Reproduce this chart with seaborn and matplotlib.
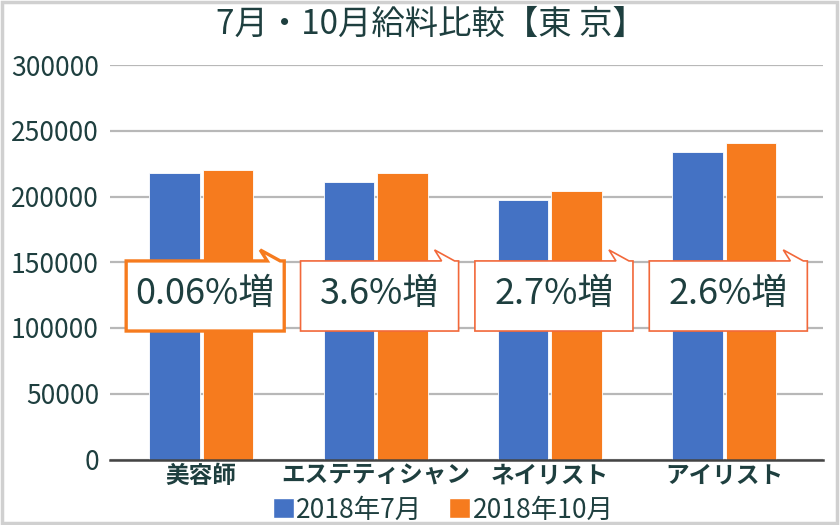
import matplotlib
matplotlib.use("Agg")
import matplotlib.pyplot as plt
from matplotlib.patches import Polygon, Rectangle, Patch
import seaborn as sns
import pandas as pd

# ---- data ----
categories = ["美容師", "エステティシャン", "ネイリスト", "アイリスト"]
series_names = ["2018年7月", "2018年10月"]
july_values = [218100, 211100, 197300, 233700]
october_values = [219800, 218100, 204200, 240800]
increase_labels = ["0.06%増", "3.6%増", "2.7%増", "2.6%増"]
y_ticks = [0, 50000, 100000, 150000, 200000, 250000, 300000]
title = "7月・10月給料比較【東 京】"

# ---- style ----
sns.set_theme(style="white")
plt.rcParams["font.family"] = ["Noto Sans CJK JP", "DejaVu Sans"]
TEXT = "#1e3f3f"
BLUE = "#4472c4"
ORANGE = "#f67b1e"

df = pd.DataFrame({
    "cat": categories * 2,
    "val": july_values + october_values,
    "series": [series_names[0]] * len(categories) + [series_names[1]] * len(categories),
})

fig = plt.figure(figsize=(8.4, 5.25), dpi=100)
ax = fig.add_axes([110 / 840, 1 - 459.5 / 525, 713 / 840, (459.5 - 65) / 525])

sns.barplot(data=df, x="cat", y="val", hue="series", palette=[BLUE, ORANGE],
            saturation=1, width=0.614, gap=0.055, errorbar=None, ax=ax,
            edgecolor="white", linewidth=0.6, legend=False, zorder=2)

ax.set_xlim(-0.523, 3.566)
ax.set_ylim(0, 300000)
ax.set_yticks(y_ticks)
ax.set_yticklabels([str(v) for v in y_ticks])
ax.set_axisbelow(True)
ax.yaxis.grid(True, color="#b8b8b8", linewidth=1.6)
ax.xaxis.grid(False)
for s in ["left", "right", "top"]:
    ax.spines[s].set_visible(False)
ax.spines["bottom"].set_color("#444444")
ax.spines["bottom"].set_linewidth(1.8)
ax.tick_params(axis="y", length=0, pad=8, labelsize=19, labelcolor=TEXT)
ax.tick_params(axis="x", length=0, pad=3, labelsize=17, labelcolor=TEXT)
for lab in ax.get_xticklabels():
    lab.set_fontweight("bold")
ax.set_xlabel("")
ax.set_ylabel("")

# ---- callouts ----
px_x = 1 / 174.3            # category units per pixel
px_y = 300000 / 394.5       # value units per pixel
box_bottom, box_top = 97700, 151000
for i, lab in enumerate(increase_labels):
    L = i - 75 * px_x
    R = i + 83 * px_x
    pts = [(L, box_bottom), (L, box_top), (R - 17 * px_x, box_top),
           (R - 24 * px_x, box_top + 11 * px_y), (R - 4 * px_x, box_top),
           (R, box_top), (R, box_bottom)]
    if i == 0:
        ec, lw = ORANGE, 2.4
    else:
        ec, lw = "#f2683a", 1.2
    ax.add_patch(Polygon(pts, closed=True, facecolor="white", edgecolor=ec,
                         linewidth=lw, zorder=5, joinstyle="miter"))
    ax.text((L + R) / 2, (box_bottom + box_top) / 2 + 2 * px_y, lab,
            ha="center", va="center", fontsize=26, color=TEXT, zorder=6)

# ---- title ----
fig.text(431 / 840, 1 - 24 / 525, title, ha="center", va="center",
         fontsize=24, color=TEXT, fontweight="normal")

# ---- legend ----
handles = [Patch(facecolor=BLUE), Patch(facecolor=ORANGE)]
fig.legend(handles, series_names, loc="center", bbox_to_anchor=(443 / 840, 1 - 510 / 525),
           ncol=2, frameon=False, fontsize=19, labelcolor=TEXT,
           handlelength=0.8, handleheight=0.8, handletextpad=0.1,
           columnspacing=1.0, borderaxespad=0, borderpad=0)

# ---- outer frame ----
fig.patches.append(Rectangle((0.002, 0.003), 0.994, 0.994, transform=fig.transFigure,
                             fill=False, edgecolor="#d0d0d0", linewidth=2.5))

fig.savefig("out.png", dpi=100)
